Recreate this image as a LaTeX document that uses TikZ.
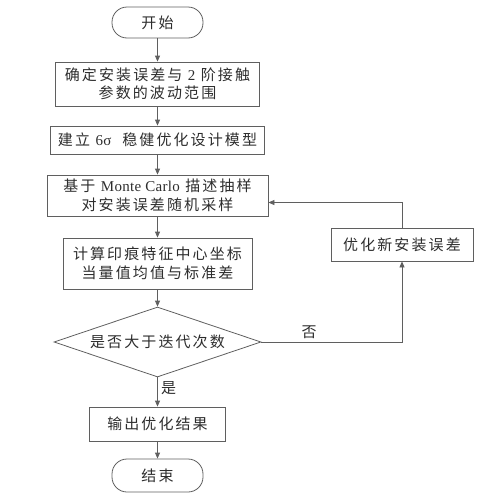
\documentclass[tikz,border=0pt]{standalone}
\usepackage{fontspec}
\setmainfont{Noto Sans CJK SC}[LetterSpace=14]
\newfontfamily\lat{Liberation Serif}[LetterSpace=2]
\usetikzlibrary{shapes.geometric,arrows.meta}
\definecolor{linegray}{RGB}{95,95,95}
\definecolor{textgray}{RGB}{45,45,45}
\begin{document}
\begin{tikzpicture}
    [x=1pt,y=-1pt,
    font=\fontsize{15}{18.5}\selectfont,
    box/.style={draw=linegray,line width=0.8pt,align=center,inner sep=0pt,text=textgray},
    term/.style={box,rounded corners=15pt},
    choice/.style={box,diamond,aspect=2.96},
    link/.style={draw=linegray,line width=0.8pt,-{Triangle[length=6pt,width=5pt]}}]
    \useasboundingbox (0,0) rectangle (489,498);
    %main column
    \node[term,minimum width=91,minimum height=31] (start) at (157.5,22.5) {开始};
    \node[box,minimum width=204,minimum height=44] (range) at (157.5,84) {确定安装误差与 {\lat 2} 阶接触\\参数的波动范围};
    \node[box,minimum width=214,minimum height=28] (model) at (157.5,140) {建立 {\lat 6σ}~~稳健优化设计模型};
    \node[box,minimum width=221,minimum height=41] (sample) at (157.5,195.5) {基于 {\lat Monte Carlo} 描述抽样\\对安装误差随机采样};
    \node[box,minimum width=189,minimum height=51] (calc) at (157.5,263.5) {计算印痕特征中心坐标\\当量值均值与标准差};
    \node[choice,minimum width=207,minimum height=70] (check) at (157.5,342) {是否大于迭代次数};
    \node[box,minimum width=136,minimum height=34] (result) at (157.5,424) {输出优化结果};
    \node[term,minimum width=91,minimum height=33] (stop) at (157.5,475.5) {结束};
    %loop
    \node[box,minimum width=142,minimum height=33] (update) at (402,244.5) {优化新安装误差};
    %arrows
    \draw[link] (start) -- (range);
    \draw[link] (range) -- (model);
    \draw[link] (model) -- (sample);
    \draw[link] (sample) -- (calc);
    \draw[link] (calc) -- (check);
    \draw[link] (check) -- node[right,pos=0.37,text=textgray]{是} (result);
    \draw[link] (result) -- (stop);
    \draw[link] (check.east) -| node[above,pos=0.17,text=textgray]{否} (update);
    \draw[link] (update) |- ([yshift=-7pt]sample.east);
\end{tikzpicture}
\end{document}
